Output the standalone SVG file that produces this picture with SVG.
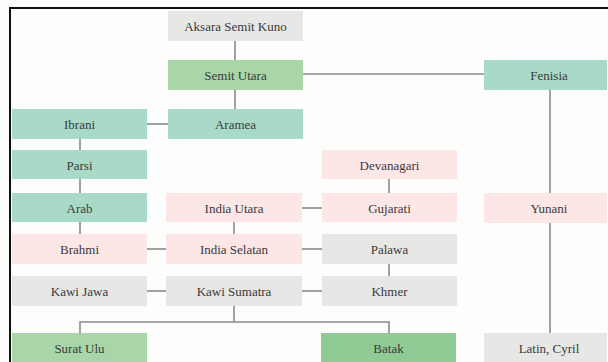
<svg xmlns="http://www.w3.org/2000/svg" width="608" height="362" viewBox="0 0 608 362">
<style>
.g{fill:#e7e7e6}.sg{fill:#a8d6a9}.t{fill:#a9dac8}.p{fill:#fde6e6}.dg{fill:#90cb96}
text{font-size:13px;fill:#3a3a3a;text-anchor:middle}
.c line,.c path{stroke:#8a8a8a;stroke-width:1.6;fill:none}
</style>
<rect width="608" height="362" fill="#fdfdfb"/>
<path d="M10 362V8H608" fill="none" stroke="#111" stroke-width="2"/>
<g class="c">
<line x1="235" y1="41" x2="235" y2="60"/>
<line x1="303" y1="74" x2="484" y2="74"/>
<line x1="235" y1="90" x2="235" y2="109"/>
<line x1="147" y1="124" x2="168" y2="124"/>
<line x1="80" y1="139" x2="80" y2="150"/>
<line x1="80" y1="179" x2="80" y2="193"/>
<line x1="80" y1="222" x2="80" y2="234"/>
<line x1="147" y1="249" x2="166" y2="249"/>
<line x1="234" y1="222" x2="234" y2="234"/>
<line x1="302" y1="208" x2="322" y2="208"/>
<line x1="389" y1="179" x2="389" y2="193"/>
<line x1="302" y1="249" x2="322" y2="249"/>
<line x1="389" y1="264" x2="389" y2="276"/>
<line x1="147" y1="291" x2="166" y2="291"/>
<line x1="302" y1="291" x2="322" y2="291"/>
<path d="M234 306V322M80 333V322H389V333"/>
<line x1="550" y1="90" x2="550" y2="193"/>
<line x1="550" y1="223" x2="550" y2="333"/>
</g>
<g font-family="'Liberation Serif', 'Times New Roman', 'DejaVu Serif', serif">
<g id="aksara"><rect class="g" x="168" y="11" width="135" height="30"/><text x="235.5" y="30.5">Aksara Semit Kuno</text></g>
<g id="semit-utara"><rect class="sg" x="168" y="60" width="135" height="30"/><text x="235.5" y="79.5">Semit Utara</text></g>
<g id="fenisia"><rect class="t" x="484" y="60" width="123" height="30"/><text x="549" y="79.5">Fenisia</text></g>
<g id="ibrani"><rect class="t" x="12" y="109" width="135" height="30"/><text x="79.5" y="128.5">Ibrani</text></g>
<g id="aramea"><rect class="t" x="168" y="109" width="135" height="30"/><text x="235.5" y="128.5">Aramea</text></g>
<g id="parsi"><rect class="t" x="12" y="150" width="135" height="29"/><text x="79.5" y="169.5">Parsi</text></g>
<g id="devanagari"><rect class="p" x="322" y="150" width="135" height="29"/><text x="389.5" y="169.5">Devanagari</text></g>
<g id="arab"><rect class="t" x="12" y="193" width="135" height="29"/><text x="79.5" y="212.5">Arab</text></g>
<g id="india-utara"><rect class="p" x="166" y="193" width="136" height="29"/><text x="234" y="212.5">India Utara</text></g>
<g id="gujarati"><rect class="p" x="322" y="193" width="135" height="29"/><text x="389.5" y="212.5">Gujarati</text></g>
<g id="yunani"><rect class="p" x="484" y="193" width="123" height="30"/><text x="549" y="212.5">Yunani</text></g>
<g id="brahmi"><rect class="p" x="12" y="234" width="135" height="30"/><text x="79.5" y="253.5">Brahmi</text></g>
<g id="india-selatan"><rect class="p" x="166" y="234" width="136" height="30"/><text x="234" y="253.5">India Selatan</text></g>
<g id="palawa"><rect class="g" x="322" y="234" width="135" height="30"/><text x="389.5" y="253.5">Palawa</text></g>
<g id="kawi-jawa"><rect class="g" x="12" y="276" width="135" height="30"/><text x="79.5" y="295.5">Kawi Jawa</text></g>
<g id="kawi-sumatra"><rect class="g" x="166" y="276" width="136" height="30"/><text x="234" y="295.5">Kawi Sumatra</text></g>
<g id="khmer"><rect class="g" x="322" y="276" width="135" height="30"/><text x="389.5" y="295.5">Khmer</text></g>
<g id="surat-ulu"><rect class="sg" x="12" y="333" width="135" height="29"/><text x="79.5" y="352.5">Surat Ulu</text></g>
<g id="batak"><rect class="dg" x="321" y="333" width="135" height="29"/><text x="388.5" y="352.5">Batak</text></g>
<g id="latin-cyril"><rect class="g" x="484" y="333" width="123" height="29"/><text x="549" y="352.5">Latin, Cyril</text></g>
</g>
</svg>
